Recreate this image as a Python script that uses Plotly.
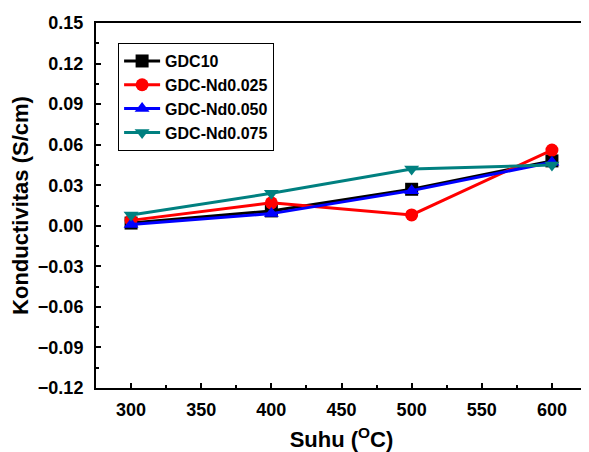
import plotly.graph_objects as go

suhu = [300, 400, 500, 600]
gdc10 = [0.002, 0.011, 0.027, 0.048]
nd025 = [0.004, 0.017, 0.008, 0.056]
nd050 = [0.001, 0.009, 0.026, 0.047]
nd075 = [0.008, 0.024, 0.042, 0.045]

series = [
    ("GDC10", gdc10, "#000000", "square"),
    ("GDC-Nd0.025", nd025, "#ff0000", "circle"),
    ("GDC-Nd0.050", nd050, "#0000ff", "triangle-up"),
    ("GDC-Nd0.075", nd075, "#008080", "triangle-down"),
]

FONT = "Liberation Sans, Arial, sans-serif"

fig = go.Figure()
for name, vals, col, sym in series:
    fig.add_trace(go.Scatter(
        x=suhu, y=vals, name=name, mode="lines+markers",
        line=dict(color=col, width=3),
        marker=dict(symbol=sym, size=13, color=col),
    ))

# page body has an 8px default margin, so the figure is sized to fit the window
fig.update_layout(
    width=581, height=444,
    margin=dict(l=88, r=2, t=15, b=64, autoexpand=False),
    paper_bgcolor="white", plot_bgcolor="white",
    showlegend=True,
    legend=dict(
        x=0.045, y=0.945, xanchor="left", yanchor="top",
        bordercolor="black", borderwidth=1, bgcolor="white",
        font=dict(family=FONT, size=16, color="black", weight="bold"),
        tracegroupgap=0, itemsizing="trace", itemwidth=36,
    ),
    font=dict(family=FONT, color="black"),
)

fig.update_xaxes(
    range=[275, 625], tickmode="linear", tick0=300, dtick=50,
    ticks="inside", ticklen=5, tickwidth=2, tickcolor="black",
    minor=dict(ticks="inside", ticklen=3, tickwidth=2, tickcolor="black", dtick=25, tick0=275),
    showline=True, linecolor="black", linewidth=2, mirror=True,
    showgrid=False, zeroline=False, automargin=False,
    tickfont=dict(family=FONT, size=18, color="black", weight="bold"),
    title=dict(text="Suhu (<sup>O</sup>C)", standoff=14,
               font=dict(family=FONT, size=22, color="black", weight="bold")),
    ticklabelstandoff=4,
)
fig.update_yaxes(
    range=[-0.12, 0.15], tickmode="linear", tick0=0, dtick=0.03, tickformat=".2f",
    ticks="inside", ticklen=5, tickwidth=2, tickcolor="black",
    minor=dict(ticks="inside", ticklen=3, tickwidth=2, tickcolor="black", dtick=0.015, tick0=0),
    showline=True, linecolor="black", linewidth=2, mirror=True,
    showgrid=False, zeroline=False, automargin=False,
    tickfont=dict(family=FONT, size=18, color="black", weight="bold"),
    title=dict(text="Konductivitas (S/cm)", standoff=3,
               font=dict(family=FONT, size=22, color="black", weight="bold")),
    ticklabelstandoff=7,
)

fig.write_html("out.html")
